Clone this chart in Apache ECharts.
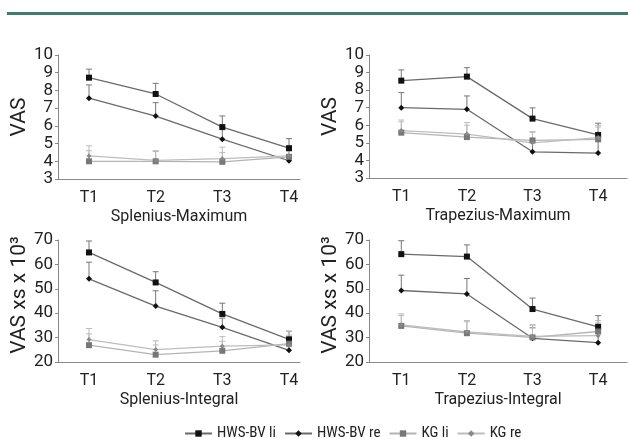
<!DOCTYPE html>
<html><head><meta charset="utf-8">
<script src="https://cdn.jsdelivr.net/npm/echarts@6/dist/echarts.min.js"></script>
<style>html,body{margin:0;padding:0;background:#fff}#c{width:628px;height:439px}</style>
</head><body><div id="c"></div>
<script>
const categories = ['T1', 'T2', 'T3', 'T4'];
const seriesNames = ['HWS-BV li', 'HWS-BV re', 'KG li', 'KG re'];
const panelTitles = ['Splenius-Maximum', 'Trapezius-Maximum', 'Splenius-Integral', 'Trapezius-Integral'];
const yNames = ['VAS', 'VAS', 'VAS xs x 10³', 'VAS xs x 10³'];
const maxTicks = [3, 4, 5, 6, 7, 8, 9, 10];
const intTicks = [20, 30, 40, 50, 60, 70];

// Splenius-Maximum
const smHwsLi = [8.72, 7.80, 5.93, 4.74], smHwsLiErr = [9.20, 8.40, 6.56, 5.28];
const smHwsRe = [7.56, 6.55, 5.25, 4.03], smHwsReErr = [8.31, 7.31, 5.90, 4.60];
const smKgLi = [4.00, 4.00, 3.97, 4.25], smKgLiErr = [4.60, 4.55, 4.50, 4.60];
const smKgRe = [4.30, 4.05, 4.15, 4.30], smKgReErr = [4.87, 4.60, 4.80, 4.80];
// Trapezius-Maximum
const tmHwsLi = [8.54, 8.77, 6.38, 5.45], tmHwsLiErr = [9.15, 9.28, 6.99, 6.12];
const tmHwsRe = [7.00, 6.91, 4.49, 4.42], tmHwsReErr = [7.86, 7.67, 5.10, 5.20];
const tmKgLi = [5.58, 5.33, 5.14, 5.20], tmKgLiErr = [6.20, 6.00, 5.64, 5.90];
const tmKgRe = [5.70, 5.50, 5.00, 5.30], tmKgReErr = [6.30, 6.15, 5.60, 6.00];
// Splenius-Integral
const siHwsLi = [64.9, 52.6, 39.7, 29.3], siHwsLiErr = [69.6, 57.0, 44.1, 32.6];
const siHwsRe = [54.1, 42.9, 34.2, 24.8], siHwsReErr = [60.9, 49.2, 38.0, 28.0];
const siKgLi = [26.9, 23.0, 24.6, 27.5], siKgLiErr = [31.5, 27.0, 28.5, 31.0];
const siKgRe = [29.2, 25.1, 26.5, 27.0], siKgReErr = [33.7, 28.7, 30.4, 32.6];
// Trapezius-Integral
const tiHwsLi = [64.2, 63.2, 41.7, 34.4], tiHwsLiErr = [69.7, 68.0, 46.2, 39.0];
const tiHwsRe = [49.3, 47.9, 29.7, 27.9], tiHwsReErr = [55.6, 54.2, 34.0, 32.0];
const tiKgLi = [34.8, 31.8, 30.1, 32.5], tiKgLiErr = [39.7, 37.0, 35.3, 37.0];
const tiKgRe = [35.2, 32.3, 30.5, 30.8], tiKgReErr = [39.0, 36.5, 35.0, 36.0];

const panels = [
  [[smHwsLi, smHwsLiErr], [smHwsRe, smHwsReErr], [smKgLi, smKgLiErr], [smKgRe, smKgReErr]],
  [[tmHwsLi, tmHwsLiErr], [tmHwsRe, tmHwsReErr], [tmKgLi, tmKgLiErr], [tmKgRe, tmKgReErr]],
  [[siHwsLi, siHwsLiErr], [siHwsRe, siHwsReErr], [siKgLi, siKgLiErr], [siKgRe, siKgReErr]],
  [[tiHwsLi, tiHwsLiErr], [tiHwsRe, tiHwsReErr], [tiKgLi, tiKgLiErr], [tiKgRe, tiKgReErr]]
];

const FONT = 'Roboto';
const LEGEND_FONT = '"Liberation Sans Narrow", "Roboto Condensed", Roboto';
const lineColors = ['#6a6a6a', '#6a6a6a', '#b4b4b4', '#bdbdbd'];
const markColors = ['#111', '#111', '#777', '#888'];
const errColors = ['#777', '#777', '#bbb', '#bbb'];
const symbols = ['rect', 'diamond', 'rect', 'diamond'];
const symSizes = [6, 6, 6, 5];

const grids = [
  {left: 58, top: 55, width: 242, height: 124},
  {left: 369, top: 55, width: 258, height: 123},
  {left: 58, top: 240, width: 242, height: 122},
  {left: 369, top: 240, width: 258, height: 122}
];
const xRanges = [[0.535, 4.165], [0.508, 4.44], [0.535, 4.165], [0.508, 4.44]];

const xAxes = [], yAxes = [], series = [];
panels.forEach((p, gi) => {
  const isMax = gi < 2;
  const ticks = isMax ? maxTicks : intTicks;
  xAxes.push({
    gridIndex: gi, type: 'value', min: xRanges[gi][0], max: xRanges[gi][1], interval: 1,
    axisLine: {lineStyle: {color: '#888', width: 1}}, axisTick: {show: false}, splitLine: {show: false},
    axisLabel: {
      margin: 11, color: '#222', fontSize: 16, fontFamily: FONT,
      customValues: [1, 2, 3, 4], formatter: v => categories[Math.round(v) - 1] || ''
    },
    name: panelTitles[gi], nameLocation: 'middle', nameGap: 30,
    nameTextStyle: {color: '#222', fontSize: 16, fontFamily: FONT}
  });
  yAxes.push({
    gridIndex: gi, type: 'value', min: ticks[0], max: ticks[ticks.length - 1],
    interval: ticks[1] - ticks[0],
    axisLine: {show: true, lineStyle: {color: '#888', width: 1}},
    axisTick: {show: true, length: 3, lineStyle: {color: '#888'}},
    splitLine: {show: false},
    axisLabel: {margin: 5, color: '#222', fontSize: 17, fontFamily: FONT,
      showMinLabel: true, showMaxLabel: true, hideOverlap: false},
    name: yNames[gi], nameLocation: 'middle', nameGap: 20,
    nameTextStyle: {color: '#222', fontSize: 21, fontFamily: FONT, padding: isMax ? 0 : [0, 0, 0, 12]}
  });
  p.forEach((s, si) => {
    const vals = s[0], errs = s[1];
    series.push({
      type: 'custom', xAxisIndex: gi, yAxisIndex: gi, silent: true, z: 1,
      data: vals.map((v, i) => [i + 1, v, errs[i]]),
      renderItem: (params, api) => {
        const a = api.coord([api.value(0), api.value(1)]);
        const b = api.coord([api.value(0), api.value(2)]);
        const st = {stroke: errColors[si], lineWidth: 1};
        return {type: 'group', children: [
          {type: 'line', shape: {x1: a[0], y1: a[1], x2: b[0], y2: b[1]}, style: st},
          {type: 'line', shape: {x1: b[0] - 3, y1: b[1], x2: b[0] + 3, y2: b[1]}, style: st}
        ]};
      }
    });
    series.push({
      type: 'line', name: seriesNames[si], xAxisIndex: gi, yAxisIndex: gi, z: 3,
      data: vals.map((v, i) => [i + 1, v]),
      symbol: symbols[si], symbolSize: symSizes[si], showSymbol: true,
      lineStyle: {color: lineColors[si], width: 1.3},
      itemStyle: {color: markColors[si]},
      animation: false
    });
  });
});

const chart = echarts.init(document.getElementById('c'), null, {renderer: 'canvas'});
chart.setOption({
  animation: false,
  backgroundColor: '#fff',
  grid: grids,
  xAxis: xAxes,
  yAxis: yAxes,
  series: series,
  legend: {
    data: seriesNames, left: 184, top: 426, itemWidth: 27, itemHeight: 8, itemGap: 8,
    padding: 0,
    textStyle: {color: '#222', fontSize: 15, fontFamily: LEGEND_FONT}
  },
  graphic: [{type: 'rect', shape: {x: 7, y: 12, width: 621, height: 3}, style: {fill: '#3e7d6e'}}]
});
</script></body></html>
